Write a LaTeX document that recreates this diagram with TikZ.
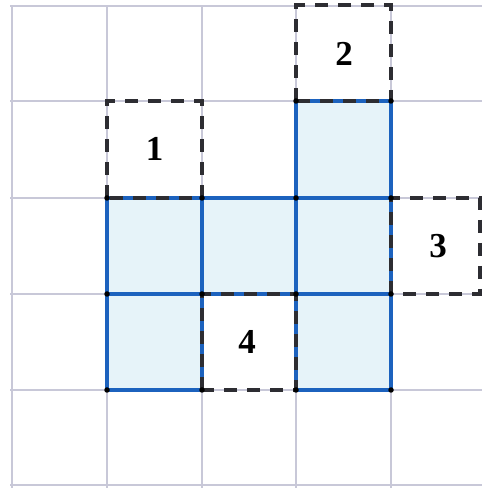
\documentclass[tikz,border=0pt]{standalone}
\usepackage{fontspec}
\setmainfont{Liberation Serif}
\definecolor{gridc}{RGB}{200,200,216}
\definecolor{blueline}{RGB}{28,98,190}
\definecolor{bluefill}{RGB}{230,243,249}
\definecolor{dashc}{RGB}{45,45,50}
\begin{document}
\begin{tikzpicture}[x=1pt,y=1pt,
  gridline/.style={draw=gridc,line width=1.6pt},
  bluecell/.style={fill=bluefill,draw=blueline,line width=3.6pt},
  dashbox/.style={draw=dashc,line width=3.4pt,dash pattern=on 13pt off 10pt},
  vdot/.style={fill=black,circle,inner sep=0pt,minimum size=5.5pt},
  numlabel/.style={font=\fontsize{35}{40}\selectfont\bfseries,inner sep=0pt}]
\useasboundingbox (0,0) rectangle (482,490);
\fill[white] (0,0) rectangle (482,490);
% grid
\foreach \x in {12,107,202,296,391} \draw[gridline] (\x,2) -- (\x,484);
\foreach \y in {484,389,292,196,100,5} \draw[gridline] (10,\y) -- (482,\y);
% blue cells
\draw[bluecell] (296,292) rectangle (391,389);
\draw[bluecell] (107,196) rectangle (202,292);
\draw[bluecell] (202,196) rectangle (296,292);
\draw[bluecell] (296,196) rectangle (391,292);
\draw[bluecell] (107,100) rectangle (202,196);
\draw[bluecell] (296,100) rectangle (391,196);
% dashed boxes
\draw[dashbox] (107,292) rectangle (202,389);
\draw[dashbox] (296,389) rectangle (391,485);
\draw[dashbox] (391,196) rectangle (480,292);
\draw[dashbox] (202,100) rectangle (296,196);
% dots
\foreach \p [count=\i] in {(107,292),(202,292),(296,389),(391,389),(296,292),(391,292),(107,196),(202,196),(296,196),(391,196),(107,100),(202,100),(296,100),(391,100)}
  \node[vdot] (d\i) at \p {};
% labels
\node[numlabel] (l1) at (154.5,341) {1};
\node[numlabel] (l2) at (344,436) {2};
\node[numlabel] (l3) at (438,244) {3};
\node[numlabel] (l4) at (247,148) {4};
\end{tikzpicture}
\end{document}
